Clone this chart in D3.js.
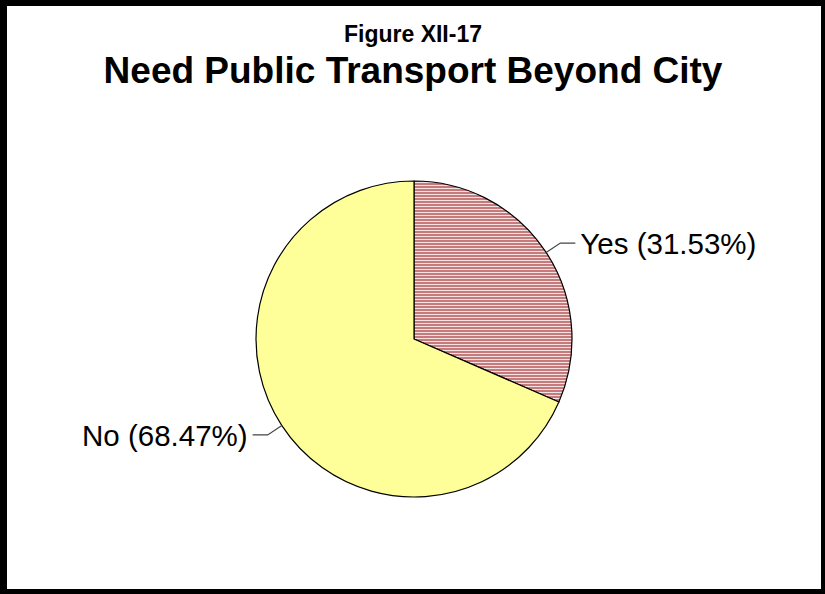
<!DOCTYPE html>
<html>
<head>
<meta charset="utf-8">
<script src="https://cdn.jsdelivr.net/npm/d3@7"></script>
<style>
  html, body { margin: 0; padding: 0; background: #fff; }
  svg { display: block; }
  text { font-family: "Liberation Sans", Arial, sans-serif; fill: #000; }
</style>
</head>
<body>
<script>
// Survey answers: share of respondents (percent)
const categories = ["Yes", "No"];
const shares = [31.53, 68.47];
const figureLabel = "Figure XII-17";
const chartTitle = "Need Public Transport Beyond City";

const W = 825, H = 594;
const cx = 414, cy = 339, R = 158;

const svg = d3.select("body").append("svg")
  .attr("width", W).attr("height", H);

// Hatched fill for the "Yes" slice: thin horizontal stripes
const defs = svg.append("defs");
const pat = defs.append("pattern")
  .attr("id", "hstripe")
  .attr("patternUnits", "userSpaceOnUse")
  .attr("width", 8).attr("height", 3);
pat.append("rect").attr("width", 8).attr("height", 3).attr("fill", "#c77a7c");
pat.append("rect").attr("y", 2).attr("width", 8).attr("height", 1).attr("fill", "#f3e2e2");

// Frame
svg.append("rect").attr("width", W).attr("height", H).attr("fill", "#000");
svg.append("rect").attr("x", 7).attr("y", 6).attr("width", 814).attr("height", 583).attr("fill", "#fff");

// Titles
svg.append("text")
  .attr("x", 413).attr("y", 42)
  .attr("text-anchor", "middle")
  .attr("font-weight", "bold").attr("font-size", 23)
  .text(figureLabel);
svg.append("text")
  .attr("x", 413).attr("y", 83)
  .attr("text-anchor", "middle")
  .attr("font-weight", "bold").attr("font-size", 37)
  .text(chartTitle);

const color = d3.scaleOrdinal()
  .domain(categories)
  .range(["url(#hstripe)", "#ffff99"]);

const pie = d3.pie().sort(null).value(d => d.value);
const arcs = pie(categories.map((c, i) => ({ name: c, value: shares[i] })));
const arc = d3.arc().innerRadius(0).outerRadius(R);

const g = svg.append("g").attr("transform", `translate(${cx},${cy})`);

g.selectAll("path.slice")
  .data(arcs)
  .join("path")
  .attr("class", "slice")
  .attr("d", arc)
  .attr("fill", d => color(d.data.name))
  .attr("stroke", "#000")
  .attr("stroke-width", 1.2)
  .attr("stroke-linejoin", "round");

// Leader lines and labels
const fmt = d3.format(".2f");
arcs.forEach(d => {
  const a = (d.startAngle + d.endAngle) / 2;
  const sx = Math.sin(a), sy = -Math.cos(a);
  const p0 = [R * sx, R * sy];
  const p1 = [(R + 17) * sx, (R + 17) * sy];
  const right = sx >= 0;
  const p2 = [p1[0] + (right ? 15 : -15), p1[1]];
  g.append("polyline")
    .attr("points", [p0, p1, p2].map(p => p.join(",")).join(" "))
    .attr("fill", "none")
    .attr("stroke", "#444")
    .attr("stroke-width", 1.2);
  g.append("text")
    .attr("x", p2[0] + (right ? 5 : -5))
    .attr("y", p2[1])
    .attr("dy", "0.36em")
    .attr("text-anchor", right ? "start" : "end")
    .attr("font-size", 29.5)
    .text(`${d.data.name} (${fmt(d.data.value)}%)`);
});
</script>
</body>
</html>
